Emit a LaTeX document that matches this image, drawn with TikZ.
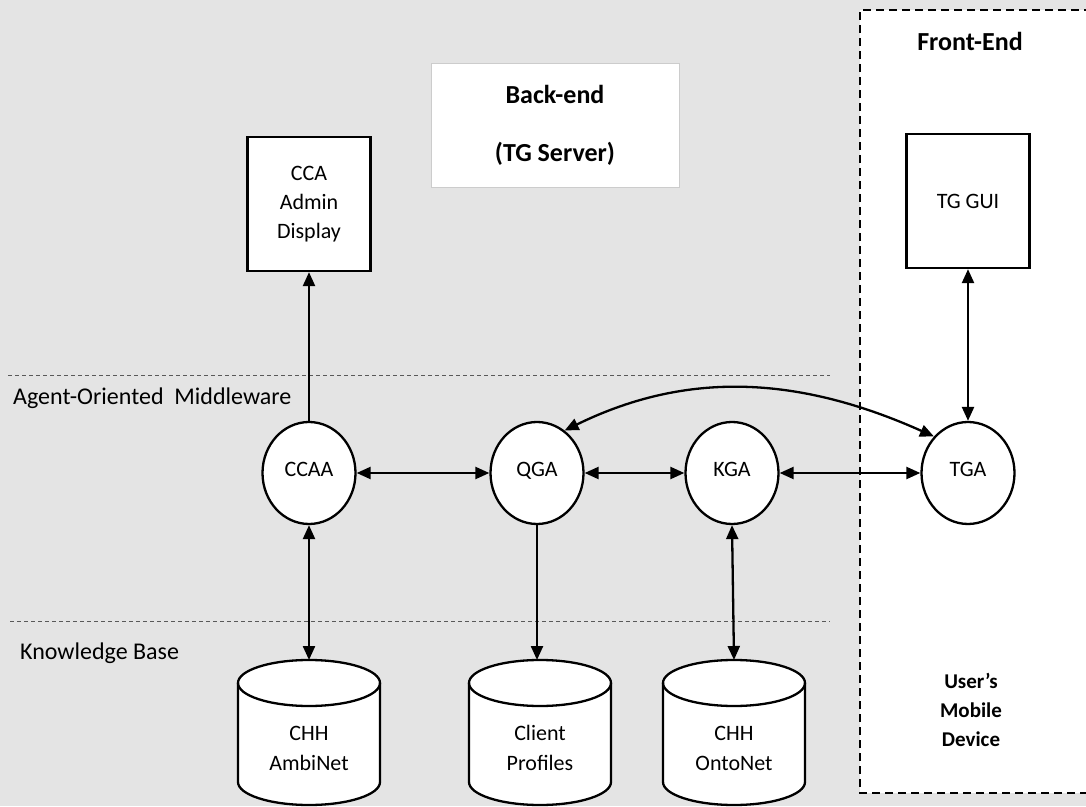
\documentclass[tikz,border=0pt]{standalone}
\usepackage{fontspec}
\setmainfont{Carlito}
\usetikzlibrary{arrows.meta,shapes.geometric,calc}
\definecolor{bggray}{RGB}{228,228,228}
\newcommand{\dbcyl}[1]{%
  \begin{scope}[shift={(#1,0)}]
    \draw[line width=2.3pt, fill=white] (-71,123) -- (-71,24)
      arc[start angle=180, end angle=360, x radius=71, y radius=23]
      -- (71,123)
      arc[start angle=0, end angle=180, x radius=71, y radius=23] -- cycle;
    \draw[line width=2.3pt] (-71,123)
      arc[start angle=180, end angle=360, x radius=71, y radius=23];
  \end{scope}}
\begin{document}
\begin{tikzpicture}[x=1pt,y=1pt,
  tip/.tip={Triangle[length=14pt,width=12pt]},
  conn/.style={line width=2.3pt, -tip},
  bconn/.style={line width=2.3pt, tip-tip},
  agent/.style={ellipse, draw, line width=2.3pt, fill=white, minimum width=93pt, minimum height=102pt, inner sep=0pt, text height=1.38ex, text depth=0pt, font=\fontsize{22}{26}\selectfont},
  sbox/.style={rectangle, draw, line width=2.3pt, fill=white, minimum width=123pt, minimum height=134pt, align=center, font=\fontsize{22}{29}\selectfont},
  dbtext/.style={inner sep=0pt, align=center, font=\fontsize{22}{30}\selectfont},
  layer/.style={draw=black!65, line width=0.9pt, dash pattern=on 4pt off 3pt},
  lbl/.style={font=\fontsize{24}{28}\selectfont, anchor=west, inner sep=0pt},
  title/.style={font=\bfseries\fontsize{26}{31}\selectfont, align=center, inner sep=0pt},
]
\useasboundingbox (0,0) rectangle (1086,806);
\fill[bggray] (0,0) rectangle (1086,806);
% front-end region
\fill[white] (860,13) rectangle (1092,796);
\draw[line width=2.2pt, dash pattern=on 8pt off 5pt] (1092,796) -- (860,796) -- (860,13) -- (1092,13);
% layer separators
\draw[layer] (8,431) -- (830,431);
\draw[layer] (10,185) -- (830,185);
\node[lbl] (lmid) at (13,408) {Agent-Oriented\ \ Middleware};
\node[lbl] (lkb) at (20,153) {Knowledge Base};
% titles
\node[title, rectangle, draw=black!20, line width=0.6pt, fill=white, minimum width=248pt, minimum height=124pt] (back) at (555,681) {Back-end\\[27pt](TG Server)};
\node[title] (front) at (970,765) {Front-End};
\node[font=\bfseries\fontsize{21}{29}\selectfont, align=center, inner sep=0pt] (mob) at (971,96) {User’s\\Mobile\\Device};
% boxes
\node[sbox] (cca) at (309,602) {CCA\\Admin\\Display};
\node[sbox] (gui) at (968,605) {TG GUI};
% agents
\node[agent] (ccaa) at (309,333) {CCAA};
\node[agent] (qga) at (537,333) {QGA};
\node[agent] (kga) at (732,333) {KGA};
\node[agent] (tga) at (968,333) {TGA};
% databases
\dbcyl{309}
\dbcyl{540}
\dbcyl{734}
\coordinate (ambtop) at (309,146);
\coordinate (clitop) at (540,146);
\coordinate (ontotop) at (734,146);
\node[dbtext] (amb) at (309,58) {CHH\\AmbiNet};
\node[dbtext] (cli) at (540,58) {Client\\Profiles};
\node[dbtext] (onto) at (734,58) {CHH\\OntoNet};
% connectors
\draw[conn] (ccaa.north) -- (cca.south);
\draw[bconn] (gui.south) -- (tga.north);
\draw[bconn] (ccaa) -- (qga);
\draw[bconn] (qga) -- (kga);
\draw[bconn] (kga) -- (tga);
\draw[bconn] (ccaa.south) -- (ambtop);
\draw[conn] (qga.south) -- (qga.south |- clitop);
\draw[bconn] (kga.south) -- (ontotop);
\draw[bconn] (qga.57) .. controls (680,432) and (790,434) .. (tga.133);
\end{tikzpicture}
\end{document}
